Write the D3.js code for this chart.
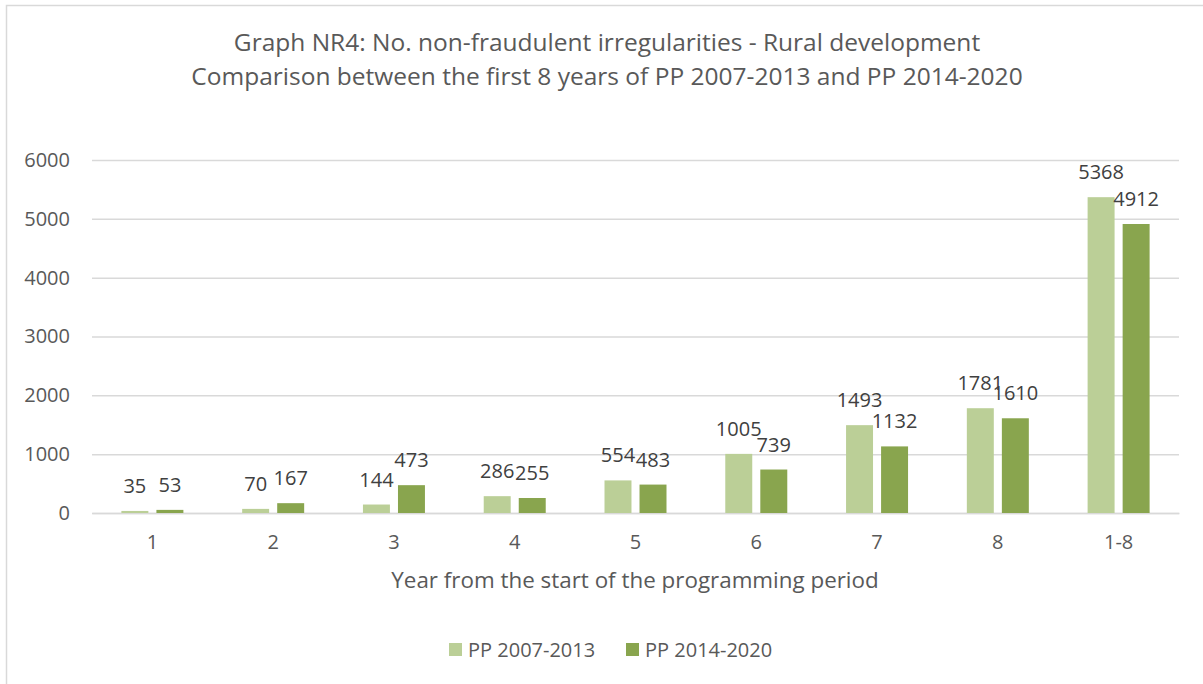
<!DOCTYPE html>
<html>
<head>
<meta charset="utf-8">
<script src="https://cdn.jsdelivr.net/npm/d3@7"></script>
<style>
  html, body { margin: 0; padding: 0; background: #fff; }
  svg { display: block; }
  text { font-family: "Open Sans", Lato, sans-serif; fill: #595959; }
</style>
</head>
<body>
<svg id="chart" width="1203" height="684"></svg>
<script>
const categories = ["1", "2", "3", "4", "5", "6", "7", "8", "1-8"];
const seriesNames = ["PP 2007-2013", "PP 2014-2020"];
const pp2007 = [35, 70, 144, 286, 554, 1005, 1493, 1781, 5368];
const pp2014 = [53, 167, 473, 255, 483, 739, 1132, 1610, 4912];
const yTicks = [0, 1000, 2000, 3000, 4000, 5000, 6000];
const titleLines = [
  "Graph NR4: No. non-fraudulent irregularities - Rural development",
  "Comparison between the first 8 years of PP 2007-2013 and PP 2014-2020"
];
const xAxisTitle = "Year from the start of the programming period";
const colors = ["#bbcf97", "#89a54e"];

const FONT = "'Open Sans', Lato, sans-serif";
const svg = d3.select("#chart");
const W = 1203, H = 684;
const margin = { left: 92, right: W - 1179, top: 160, bottom: H - 513 };

// chart border
svg.append("rect").attr("x", 6.5).attr("y", 5.5).attr("width", W).attr("height", H)
  .attr("fill", "#fff").attr("stroke", "#d9d9d9").attr("stroke-width", 1.5);

const x = d3.scaleBand().domain(categories).range([margin.left, W - margin.right])
  .paddingInner(0).paddingOuter(0);
const xs = d3.scaleBand().domain([0, 1]).range([x.bandwidth() / 2 - 31, x.bandwidth() / 2 + 31])
  .paddingInner(0.23).paddingOuter(0);
const y = d3.scaleLinear().domain([0, 6000]).range([H - margin.bottom, margin.top]);

// gridlines
const yAxis = d3.axisLeft(y).tickValues(yTicks).tickFormat(d3.format("d"))
  .tickSize(-(W - margin.left - margin.right)).tickPadding(22);
const gy = svg.append("g").attr("transform", `translate(${margin.left},0)`).call(yAxis);
gy.select(".domain").remove();
gy.selectAll(".tick line").attr("stroke", "#d9d9d9").attr("stroke-width", 1.5);
gy.selectAll(".tick text").attr("font-size", 20).style("font-family", FONT).attr("fill", "#595959");

// x axis
const xAxis = d3.axisBottom(x).tickSize(0).tickPadding(22);
const gx = svg.append("g").attr("transform", `translate(0,${H - margin.bottom})`).call(xAxis);
gx.select(".domain").attr("stroke", "#d9d9d9").attr("stroke-width", 1.5);
gx.selectAll(".tick text").attr("font-size", 20).style("font-family", FONT).attr("fill", "#595959");

const data = categories.map((c, i) => ({ cat: c, vals: [pp2007[i], pp2014[i]] }));

const groups = svg.append("g").selectAll("g").data(data).join("g")
  .attr("transform", d => `translate(${x(d.cat)},0)`);

groups.selectAll("rect").data(d => d.vals.map((v, k) => ({ v, k }))).join("rect")
  .attr("x", d => xs(d.k))
  .attr("width", xs.bandwidth())
  .attr("y", d => y(d.v))
  .attr("height", d => y(0) - y(d.v))
  .attr("fill", d => colors[d.k]);

groups.selectAll("text.lbl").data(d => d.vals.map((v, k) => ({ v, k }))).join("text")
  .attr("class", "lbl")
  .attr("x", d => xs(d.k) + xs.bandwidth() / 2)
  .attr("y", d => y(d.v) - 18)
  .attr("text-anchor", "middle")
  .attr("font-size", 20)
  .style("fill", "#404040")
  .text(d => d.v);

// title
svg.append("g").selectAll("text").data(titleLines).join("text")
  .attr("x", 607).attr("y", (d, i) => 51 + i * 34)
  .attr("text-anchor", "middle").attr("font-size", 24.5)
  .text(d => d);

// x axis title
svg.append("text").attr("x", 635).attr("y", 588).attr("text-anchor", "middle")
  .attr("font-size", 22.4).text(xAxisTitle);

// legend
const legendX = [449, 626];
const lg = svg.append("g").selectAll("g").data(seriesNames).join("g")
  .attr("transform", (d, i) => `translate(${legendX[i]},643)`);
lg.append("rect").attr("width", 13).attr("height", 13).attr("fill", (d, i) => colors[i]);
lg.append("text").attr("x", 19).attr("y", 13.5).attr("font-size", 20).text(d => d);
</script>
</body>
</html>
